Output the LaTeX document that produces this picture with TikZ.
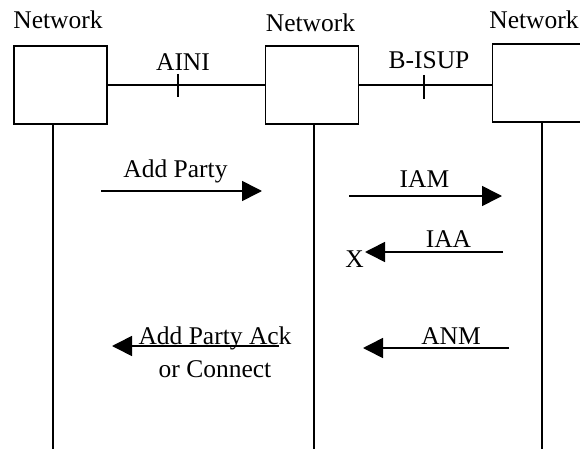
\documentclass[tikz,border=0pt]{standalone}
\usepackage{fontspec}
\setmainfont{Liberation Serif}
\usetikzlibrary{arrows.meta,positioning}

\begin{document}
\begin{tikzpicture}[x=1pt,y=-1pt,font=\fontsize{25.5}{29}\selectfont]
\tikzstyle{netbox} = [rectangle, draw, line width=1.6pt, minimum width=93pt,
minimum height=78pt, inner sep=0pt]
\tikzstyle{line} = [draw, line width=1.6pt];
\tikzstyle{msg} = [draw, line width=1.6pt, -{Triangle[length=20pt,width=20pt]}];
\tikzstyle{lbl} = [inner sep=0pt, anchor=base];
\useasboundingbox (0,0) rectangle (580,449);
\clip (0,0) rectangle (580,449);
% network boxes
\node [netbox] (net1) at (60.5,85) {};
\node [netbox] (net2) at (312,85) {};
\node [netbox] (net3) at (539,83) {};
\node [lbl] (name1) at (58,29) {Network};
\node [lbl] (name2) at (310.5,31.5) {Network};
\node [lbl] (name3) at (534,28.5) {Network};
% interfaces
\path [line] (net1.east) -- (net2.west);
\path [line] (net2.east) -- (net2.east -| net3.west);
\coordinate (aini) at (178,85);
\coordinate (bisup) at (424,85);
\path [line] (aini) ++(0,-11) -- ++(0,23);
\path [line] (bisup) ++(0,-10) -- ++(0,24);
\node [lbl] (ainilbl) at (183,71) {AINI};
\node [lbl] (bisuplbl) at (429,69) {B-ISUP};
% lifelines
\coordinate (end1) at (53,449);
\coordinate (end2) at (314,449);
\coordinate (end3) at (542,449);
\path [line] (net1.south -| end1) -- (end1);
\path [line] (net2.south -| end2) -- (end2);
\path [line] (net3.south -| end3) -- (end3);
% messages
\coordinate (ap1) at (101,191);  \coordinate (ap2) at (262,191);
\coordinate (iam1) at (349,196); \coordinate (iam2) at (502,196);
\coordinate (iaa1) at (503,252); \coordinate (iaa2) at (365,252);
\coordinate (anm1) at (509,348); \coordinate (anm2) at (363,348);
\coordinate (ack1) at (279,346); \coordinate (ack2) at (112,346);
\path [msg] (ap1) -- (ap2);
\path [msg] (iam1) -- (iam2);
\path [msg] (iaa1) -- (iaa2);
\path [msg] (anm1) -- (anm2);
\path [msg] (ack1) -- (ack2);
\node [lbl] (aplbl) at (175.5,178) {Add Party};
\node [lbl] (iamlbl) at (424.5,187) {IAM};
\node [lbl] (iaalbl) at (448.5,247) {IAA};
\node [lbl] (xlbl) at (354.5,267) {X};
\node [lbl] (anmlbl) at (451,344) {ANM};
\node [lbl] (acklbl) at (215,344) {Add Party Ack};
\node [lbl] (conlbl) at (215,377) {or Connect};
\end{tikzpicture}
\end{document}
